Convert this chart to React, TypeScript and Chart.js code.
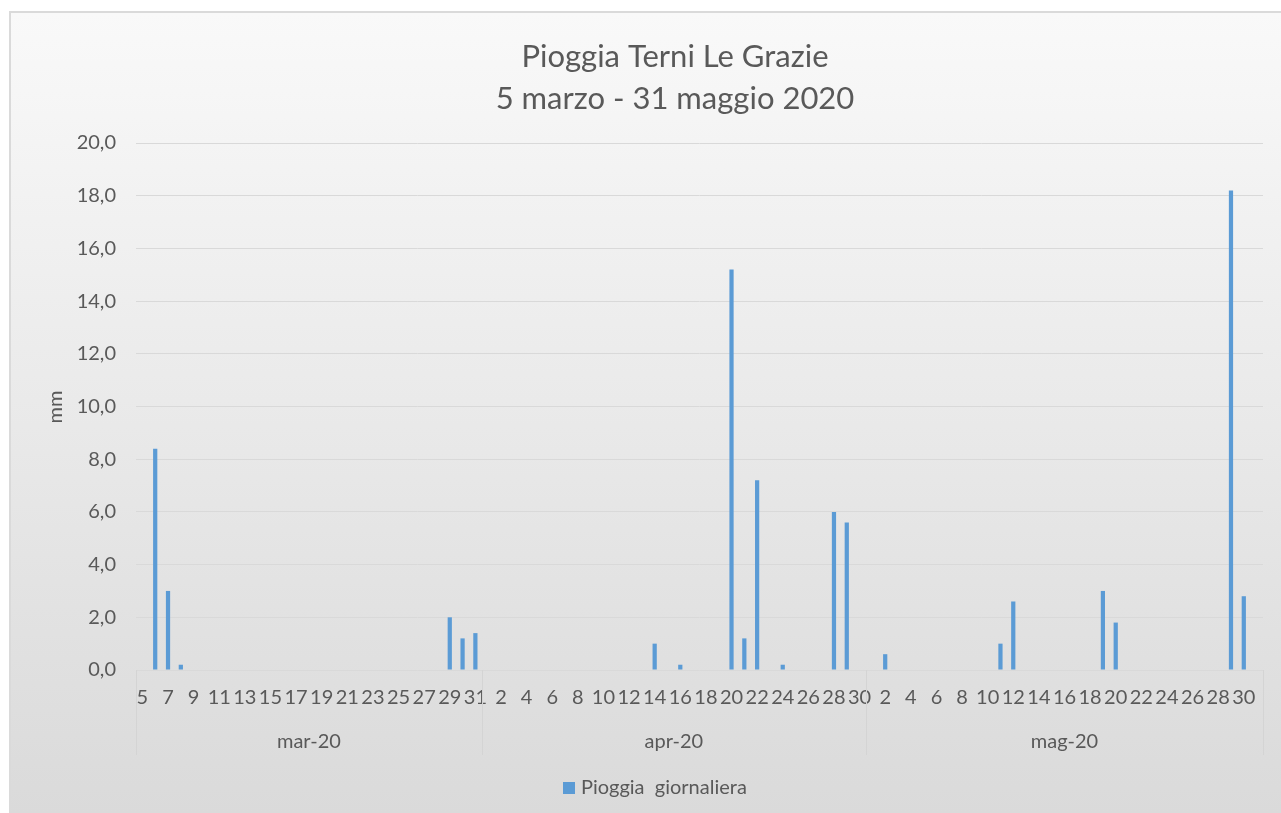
import React, { useEffect, useRef } from "react";
import { Chart, registerables } from "chart.js";

Chart.register(...registerables);

const titleLines = ["Pioggia Terni Le Grazie", "5 marzo - 31 maggio 2020"];
const yAxisTitle = "mm";
const seriesName = "Pioggia  giornaliera";
const months = ["mar-20", "apr-20", "mag-20"];

const marDays = ["5","6","7","8","9","10","11","12","13","14","15","16","17","18","19","20","21","22","23","24","25","26","27","28","29","30","31"];
const aprDays = ["1","2","3","4","5","6","7","8","9","10","11","12","13","14","15","16","17","18","19","20","21","22","23","24","25","26","27","28","29","30"];
const magDays = ["1","2","3","4","5","6","7","8","9","10","11","12","13","14","15","16","17","18","19","20","21","22","23","24","25","26","27","28","29","30","31"];

// daily rain (mm)
const marRain = [0, 8.4, 3.0, 0.2, 0, 0, 0, 0, 0, 0, 0, 0, 0, 0, 0, 0, 0, 0, 0, 0, 0, 0, 0, 0, 2.0, 1.2, 1.4];
const aprRain = [0, 0, 0, 0, 0, 0, 0, 0, 0, 0, 0, 0, 0, 1.0, 0, 0.2, 0, 0, 0, 15.2, 1.2, 7.2, 0, 0.2, 0, 0, 0, 6.0, 5.6, 0];
const magRain = [0, 0.6, 0, 0, 0, 0, 0, 0, 0, 0, 1.0, 2.6, 0, 0, 0, 0, 0, 0, 3.0, 1.8, 0, 0, 0, 0, 0, 0, 0, 0, 18.2, 2.8, 0];

const yMin = 0;
const yMax = 20;
const yStep = 2;

const monthDays = [marDays, aprDays, magDays];
const allLabels = [...marDays, ...aprDays, ...magDays];
const allRain = [...marRain, ...aprRain, ...magRain];

const TEXT = "#595959";
const FONT = "Lato, 'Open Sans', sans-serif";
const BAR = "#5b9bd5";
const FS = 20;

const overlay = {
  id: "overlay",
  afterDraw(chart: any) {
    const ctx = chart.ctx;
    const x = chart.scales.x;
    const area = chart.chartArea;
    const n = allLabels.length;
    const cw = (area.right - area.left) / n;
    ctx.save();
    // title
    ctx.fillStyle = TEXT;
    ctx.textAlign = "center";
    ctx.textBaseline = "alphabetic";
    ctx.font = `31px ${FONT}`;
    ctx.fillText(titleLines[0], 675, 67);
    ctx.fillText(titleLines[1], 675, 109);
    // y title
    ctx.save();
    ctx.translate(56, 407);
    ctx.rotate(-Math.PI / 2);
    ctx.font = `${FS}px ${FONT}`;
    ctx.textBaseline = "middle";
    ctx.fillText(yAxisTitle, 0, 0);
    ctx.restore();
    // month groups
    let start = 0;
    ctx.strokeStyle = "#d4d4d4";
    ctx.lineWidth = 1;
    const drawSep = (px: number) => {
      ctx.beginPath();
      ctx.moveTo(Math.round(px) + 0.5, area.bottom);
      ctx.lineTo(Math.round(px) + 0.5, 755);
      ctx.stroke();
    };
    drawSep(x.getPixelForValue(0) - cw / 2);
    months.forEach((m, i) => {
      const cnt = monthDays[i].length;
      const left = x.getPixelForValue(start) - cw / 2;
      const right = x.getPixelForValue(start + cnt - 1) + cw / 2;
      drawSep(right);
      ctx.font = `${FS}px ${FONT}`;
      ctx.textAlign = "center";
      ctx.textBaseline = "middle";
      ctx.fillStyle = TEXT;
      ctx.fillText(m, (left + right) / 2, 742);
      start += cnt;
    });
    // legend
    const ds = chart.data.datasets[0];
    ctx.fillStyle = ds.backgroundColor;
    ctx.fillRect(563, 782, 12, 12);
    ctx.fillStyle = TEXT;
    ctx.textAlign = "left";
    ctx.textBaseline = "middle";
    ctx.font = `${FS}px ${FONT}`;
    ctx.fillText(ds.label, 581, 788);
    ctx.restore();
  },
};

export default function App() {
  const ref = useRef<HTMLCanvasElement>(null);
  useEffect(() => {
    document.body.style.margin = "0";
    const chart = new Chart(ref.current as HTMLCanvasElement, {
      type: "bar",
      data: {
        labels: allLabels,
        datasets: [
          {
            label: seriesName,
            data: allRain,
            backgroundColor: BAR,
            borderWidth: 0,
            categoryPercentage: 1,
            barPercentage: 0.33,
          },
        ],
      },
      options: {
        responsive: false,
        animation: false,
        devicePixelRatio: 1,
        layout: { padding: { top: 143, left: 0, right: 18, bottom: 0 } },
        plugins: {
          legend: { display: false },
          title: { display: false },
          tooltip: { enabled: false },
        },
        scales: {
          x: {
            grid: { display: false, drawTicks: false },
            border: { display: false },
            ticks: {
              autoSkip: false,
              maxRotation: 0,
              minRotation: 0,
              padding: 16,
              color: TEXT,
              font: { family: FONT, size: FS },
              callback: (_v: any, i: number) => (i % 2 === 0 ? allLabels[i] : ""),
            },
            afterFit: (s: any) => {
              s.height = 143;
            },
          },
          y: {
            min: yMin,
            max: yMax,
            grid: { color: "#d9d9d9", drawTicks: false, lineWidth: 1 },
            border: { display: false },
            ticks: {
              stepSize: yStep,
              padding: 20,
              color: TEXT,
              font: { family: FONT, size: FS },
              callback: (v: any) => Number(v).toFixed(1).replace(".", ","),
            },
            afterFit: (s: any) => {
              s.width = 136;
            },
          },
        },
      },
      plugins: [overlay],
    });
    return () => chart.destroy();
  }, []);
  return (
    <div style={{ position: "fixed", left: 0, top: 0, width: 1281, height: 813, overflow: "hidden", background: "#fff" }}>
      <div
        style={{
          position: "absolute",
          left: 9,
          top: 11,
          width: 1300,
          height: 830,
          boxSizing: "border-box",
          border: "2px solid #dadada",
          background: "linear-gradient(#f9f9f9 0%, #d9d9d9 100%)",
        }}
      />
      <canvas ref={ref} width={1281} height={813} style={{ position: "absolute", left: 0, top: 0, display: "block" }} />
    </div>
  );
}
